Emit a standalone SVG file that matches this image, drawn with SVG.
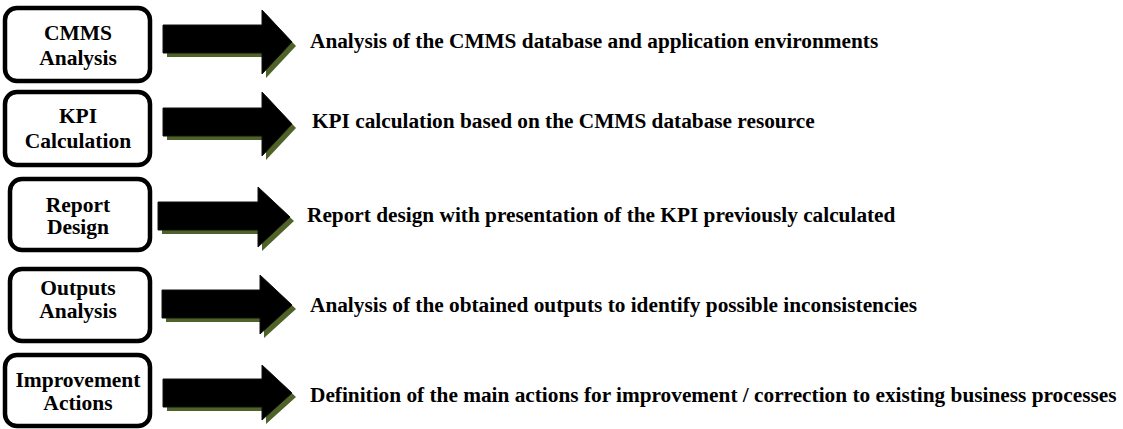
<svg xmlns="http://www.w3.org/2000/svg" width="1123" height="429" viewBox="0 0 1123 429">
<style>
.box{fill:#fff;stroke:#000;stroke-width:4.5}
.lbl{font-weight:bold;font-size:21.5px;fill:#000;text-anchor:middle}
.txt{font-weight:bold;font-size:21.3px;fill:#000}
.shadow{fill:#4f6228}
.arrow{fill:#000;stroke:#111;stroke-width:1}
</style>
<rect width="1123" height="429" fill="#fff"/>
<g font-family="Liberation Serif, Tinos, Times New Roman, DejaVu Serif, serif">
<g id="node-cmms">
<rect class="box" x="5" y="8" width="145" height="73" rx="12"/>
<text class="lbl" x="78" y="40">CMMS</text>
<text class="lbl" x="78" y="65">Analysis</text>
</g>
<g id="node-kpi">
<rect class="box" x="5" y="92" width="145" height="73" rx="12"/>
<text class="lbl" x="78" y="123">KPI</text>
<text class="lbl" x="78" y="148">Calculation</text>
</g>
<g id="node-report">
<rect class="box" x="10" y="179" width="140" height="71" rx="12"/>
<text class="lbl" x="78" y="212">Report</text>
<text class="lbl" x="78" y="234">Design</text>
</g>
<g id="node-outputs">
<rect class="box" x="10" y="269" width="140" height="72" rx="12"/>
<text class="lbl" x="78" y="295">Outputs</text>
<text class="lbl" x="78" y="318">Analysis</text>
</g>
<g id="node-improvement">
<rect class="box" x="5" y="355" width="145" height="71" rx="12"/>
<text class="lbl" x="78" y="387">Improvement</text>
<text class="lbl" x="78" y="410">Actions</text>
</g>
<g id="connectors">
<polygon class="shadow" points="167,29 266,29 266,14 296,46 266,78 266,57 167,57"/>
<polygon class="arrow" points="163,25 262,25 262,10 292,42 262,74 262,53 163,53"/>
<polygon class="shadow" points="167,112 266,112 266,96 296,128 266,160 266,140 167,140"/>
<polygon class="arrow" points="163,108 262,108 262,92 292,124 262,156 262,136 163,136"/>
<polygon class="shadow" points="162,206 262,206 262,191 294,221 262,251 262,234 162,234"/>
<polygon class="arrow" points="158,202 258,202 258,187 290,217 258,247 258,230 158,230"/>
<polygon class="shadow" points="166,294 264,294 264,279 296,309 264,338 264,322 166,322"/>
<polygon class="arrow" points="162,290 260,290 260,275 292,305 260,334 260,318 162,318"/>
<polygon class="shadow" points="167,383 266,383 266,369 296,397 266,424 266,411 167,411"/>
<polygon class="arrow" points="163,379 262,379 262,365 292,393 262,420 262,407 163,407"/>
</g>
<g id="descriptions">
<text class="txt" x="310" y="48">Analysis of the CMMS database and application environments</text>
<text class="txt" x="312" y="128">KPI calculation based on the CMMS database resource</text>
<text class="txt" x="307" y="222">Report design with presentation of the KPI previously calculated</text>
<text class="txt" x="310" y="312">Analysis of the obtained outputs to identify possible inconsistencies</text>
<text class="txt" x="310" y="402">Definition of the main actions for improvement / correction to existing business processes</text>
</g>
</g>
</svg>
